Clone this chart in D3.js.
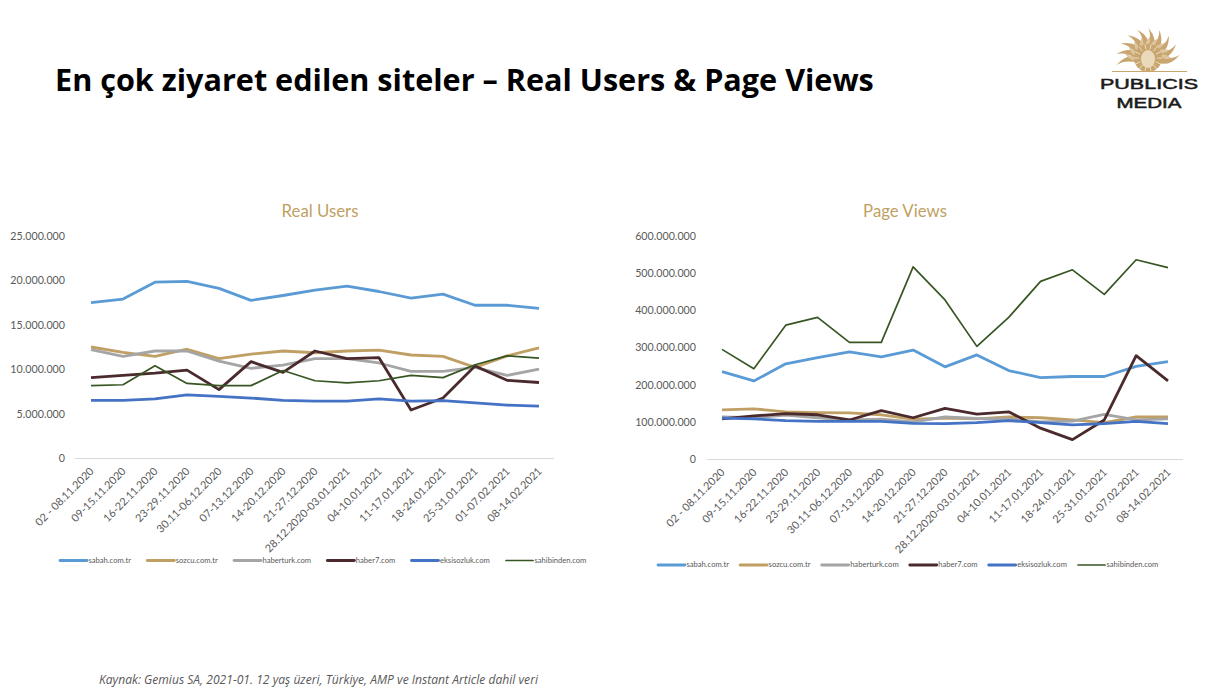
<!DOCTYPE html>
<html>
<head>
<meta charset="utf-8">
<script src="https://cdn.jsdelivr.net/npm/d3@7"></script>
<style>
  html, body { margin: 0; padding: 0; background: #fff; }
  svg { display: block; }
  text { font-family: Lato, "Open Sans", sans-serif; }
</style>
</head>
<body>
<svg id="slide" width="1231" height="691"></svg>
<script>
var weeks = ["02 - 08.11.2020", "09-15.11.2020", "16-22.11.2020", "23-29.11.2020", "30.11-06.12.2020",
  "07-13.12.2020", "14-20.12.2020", "21-27.12.2020", "28.12.2020-03.01.2021", "04-10.01.2021",
  "11-17.01.2021", "18-24.01.2021", "25-31.01.2021", "01-07.02.2021", "08-14.02.2021"];

var siteNames = ["sabah.com.tr", "sozcu.com.tr", "haberturk.com", "haber7.com", "eksisozluk.com", "sahibinden.com"];
var siteColors = ["#5B9BD5", "#BF9F63", "#A5A5A5", "#4A2A2D", "#4472C4", "#375623"];
var siteWidths = [2.8, 2.8, 2.8, 2.8, 2.8, 1.7];

// Real Users, millions
var usersSabah = [17.5, 17.9, 19.8, 19.9, 19.1, 17.75, 18.3, 18.9, 19.35, 18.75, 18.0, 18.45, 17.2, 17.2, 16.85];
var usersSozcu = [12.5, 11.9, 11.45, 12.25, 11.2, 11.7, 12.05, 11.85, 12.05, 12.15, 11.6, 11.45, 10.2, 11.5, 12.4];
var usersHaberturk = [12.2, 11.45, 12.05, 12.05, 10.9, 10.1, 10.45, 11.2, 11.2, 10.7, 9.75, 9.75, 10.2, 9.3, 10.0];
var usersHaber7 = [9.05, 9.3, 9.55, 9.9, 7.7, 10.85, 9.65, 12.05, 11.2, 11.3, 5.4, 6.75, 10.35, 8.75, 8.5];
var usersEksi = [6.5, 6.5, 6.65, 7.1, 6.95, 6.75, 6.5, 6.4, 6.4, 6.65, 6.4, 6.45, 6.2, 5.95, 5.85];
var usersSahibinden = [8.15, 8.25, 10.4, 8.4, 8.15, 8.15, 9.85, 8.7, 8.45, 8.7, 9.3, 9.05, 10.5, 11.5, 11.25];

// Page Views, millions
var viewsSabah = [235, 210, 256, 273, 288, 275, 293, 248, 280, 238, 219, 222, 222, 249, 262];
var viewsSozcu = [132, 135, 127, 125, 124, 119, 107, 110, 108, 113, 111, 105, 98, 113, 113];
var viewsHaberturk = [113, 111, 118, 111, 105, 107, 100, 113, 109, 108, 100, 102, 120, 105, 108];
var viewsHaber7 = [108, 116, 122, 119, 105, 130, 111, 136, 121, 127, 83, 52, 105, 278, 210];
var viewsEksi = [110, 108, 103, 101, 101, 101, 96, 95, 98, 103, 98, 92, 95, 101, 95];
var viewsSahibinden = [295, 243, 360, 381, 314, 314, 517, 428, 303, 381, 478, 509, 443, 536, 515];

var usersTicks = [0, 5, 10, 15, 20, 25];
var viewsTicks = [0, 100, 200, 300, 400, 500, 600];

var svg = d3.select("#slide");

svg.append("text")
  .attr("x", 55).attr("y", 91)
  .style("font-family", "'Open Sans'")
  .style("font-weight", 700)
  .style("font-size", "30.6px")
  .attr("fill", "#000")
  .text("En çok ziyaret edilen siteler – Real Users & Page Views");

svg.append("text")
  .attr("x", 99).attr("y", 684)
  .style("font-family", "'Open Sans'")
  .style("font-style", "italic")
  .style("font-size", "12.1px")
  .attr("fill", "#595959")
  .text("Kaynak: Gemius SA, 2021-01. 12 yaş üzeri, Türkiye, AMP ve Instant Article dahil veri");

function drawChart(opts) {
  var x = d3.scalePoint().domain(weeks).range([opts.firstX, opts.lastX]);
  var y = d3.scaleLinear().domain([0, opts.max]).range([opts.bottom, opts.top]);

  var g = svg.append("g");

  g.append("text")
    .attr("x", opts.titleX).attr("y", opts.titleY)
    .attr("text-anchor", "middle")
    .style("font-size", "16.8px")
    .attr("fill", "#BF9F63")
    .text(opts.title);

  var yAxis = d3.axisLeft(y).tickValues(opts.ticks).tickSize(0).tickPadding(0)
    .tickFormat(function(d) {
      return d === 0 ? "0" : d3.format(",")(d * 1000000).replace(/,/g, ".");
    });
  var yG = g.append("g").attr("transform", "translate(" + opts.labelX + ",0)").call(yAxis);
  yG.select(".domain").remove();
  yG.selectAll("text").style("font-size", "10.7px").attr("fill", "#595959").attr("dy", "0.32em");

  // baseline runs a half step past the first and last points
  g.append("line")
    .attr("x1", opts.axisStart).attr("x2", opts.axisEnd)
    .attr("y1", y(0) + 0.5).attr("y2", y(0) + 0.5)
    .attr("stroke", "#D9D9D9").attr("stroke-width", 1);

  var xAxis = d3.axisBottom(x).tickSize(0).tickPadding(0);
  var xG = g.append("g").attr("transform", "translate(0," + y(0) + ")").call(xAxis);
  xG.select(".domain").remove();
  xG.selectAll("text")
    .style("font-size", "10.8px")
    .attr("fill", "#595959")
    .attr("text-anchor", "end")
    .attr("dy", null)
    .attr("y", null)
    .attr("transform", "translate(3,14) rotate(-45)");

  var line = d3.line()
    .x(function(d, i) { return x(weeks[i]); })
    .y(function(d) { return y(d); });

  opts.series.forEach(function(values, i) {
    g.append("path")
      .datum(values)
      .attr("fill", "none")
      .attr("stroke", siteColors[i])
      .attr("stroke-width", siteWidths[i])
      .attr("stroke-linejoin", "round")
      .attr("d", line);
  });

  // legend is a flow layout, the text widths push the next item along
  var cursor = opts.legendX;
  siteNames.forEach(function(name, i) {
    g.append("line")
      .attr("x1", cursor).attr("x2", cursor + 27)
      .attr("y1", opts.legendY).attr("y2", opts.legendY)
      .attr("stroke", siteColors[i])
      .attr("stroke-width", siteWidths[i])
      .attr("stroke-linecap", "round");
    var label = g.append("text")
      .attr("x", cursor + 28.5).attr("y", opts.legendY + 2.4)
      .style("font-size", "7.6px")
      .attr("fill", "#595959")
      .text(name);
    cursor += 28.5 + label.node().getComputedTextLength() + opts.legendGap;
  });
}

drawChart({
  title: "Real Users", titleX: 320, titleY: 217,
  series: [usersSabah, usersSozcu, usersHaberturk, usersHaber7, usersEksi, usersSahibinden],
  max: 25, ticks: usersTicks,
  firstX: 91, lastX: 539, top: 236, bottom: 458,
  labelX: 65, axisStart: 75, axisEnd: 554,
  legendX: 60, legendY: 560.5, legendGap: 16.3
});

drawChart({
  title: "Page Views", titleX: 905, titleY: 217,
  series: [viewsSabah, viewsSozcu, viewsHaberturk, viewsHaber7, viewsEksi, viewsSahibinden],
  max: 600, ticks: viewsTicks,
  firstX: 722, lastX: 1168, top: 236, bottom: 459,
  labelX: 696, axisStart: 707, axisEnd: 1183,
  legendX: 658, legendY: 565, legendGap: 11.1
});

// Publicis Media logo, a maned sun sitting on a rule
function flame(cx, cy, a, r0, r1, bend, w) {
  var nx = Math.cos(a + Math.PI / 2) * w, ny = Math.sin(a + Math.PI / 2) * w;
  var x0 = cx + r0 * Math.cos(a), y0 = cy + r0 * Math.sin(a);
  var tx = cx + r1 * Math.cos(a + bend), ty = cy + r1 * Math.sin(a + bend);
  var mx = cx + r1 * 0.7 * Math.cos(a - bend), my = cy + r1 * 0.7 * Math.sin(a - bend);
  return "M" + (x0 - nx) + "," + (y0 - ny) +
    "Q" + (mx - nx) + "," + (my - ny) + " " + tx + "," + ty +
    "Q" + (mx + nx) + "," + (my + ny) + " " + (x0 + nx) + "," + (y0 + ny) + "Z";
}

function drawLogo() {
  var logo = svg.append("g");
  var cx = 1148, cy = 60;
  var rayCount = 19;
  d3.range(rayCount).forEach(function(i) {
    var a = Math.PI * (1.0 + i / (rayCount - 1));
    var long = i % 2 === 0;
    logo.append("path")
      .attr("d", flame(cx, cy, a, 10, long ? 32 : 26, long ? -0.16 : 0.18, long ? 3 : 2.2))
      .attr("fill", long ? "#C9A66F" : "#DCC49C");
  });
  // mane around the face
  logo.append("circle").attr("cx", cx).attr("cy", cy - 2).attr("r", 14).attr("fill", "#C9A66F");
  d3.range(14).forEach(function(i) {
    var a = Math.PI * 2 * i / 14;
    logo.append("line")
      .attr("x1", cx + 9 * Math.cos(a)).attr("y1", cy - 2 + 9 * Math.sin(a))
      .attr("x2", cx + 14 * Math.cos(a)).attr("y2", cy - 2 + 14 * Math.sin(a))
      .attr("stroke", "#F3E8D5").attr("stroke-width", 0.8);
  });
  logo.append("ellipse").attr("cx", cx).attr("cy", cy - 1).attr("rx", 7).attr("ry", 9).attr("fill", "#EBD9BC");
  logo.append("rect").attr("x", 1108).attr("y", 71.5).attr("width", 80).attr("height", 8).attr("fill", "#fff");
  logo.append("line")
    .attr("x1", 1112).attr("x2", 1187).attr("y1", 71.5).attr("y2", 71.5)
    .attr("stroke", "#C9A66F").attr("stroke-width", 1.2);

  [["PUBLICIS", 89, 98], ["MEDIA", 108, 65]].forEach(function(row) {
    logo.append("text")
      .attr("x", 1149).attr("y", row[1]).attr("text-anchor", "middle")
      .attr("textLength", row[2]).attr("lengthAdjust", "spacingAndGlyphs")
      .style("font-family", "'Liberation Sans'").style("font-size", "14.5px")
      .attr("stroke", "#1a1a1a").attr("stroke-width", 0.5)
      .attr("fill", "#1a1a1a").text(row[0]);
  });
}
drawLogo();
</script>
</body>
</html>
